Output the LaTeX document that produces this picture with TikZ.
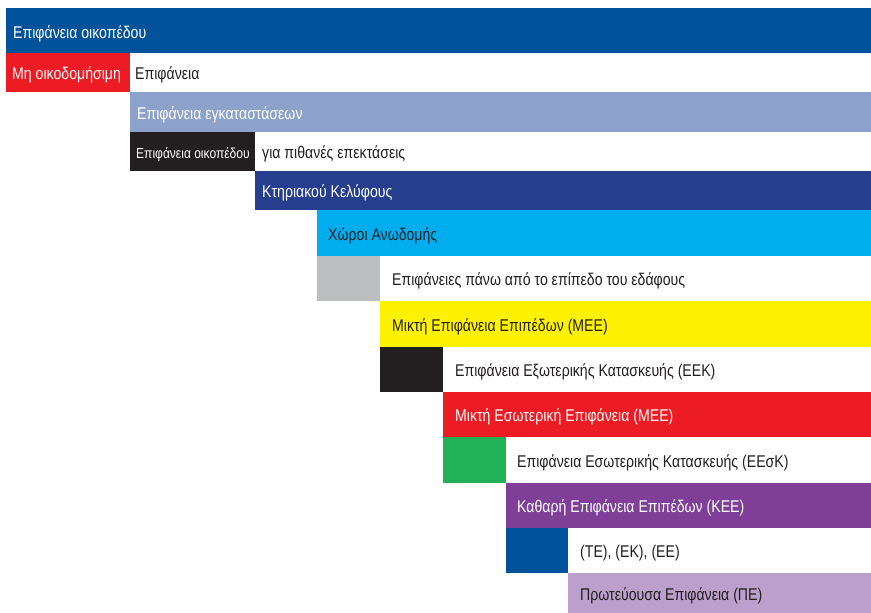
\documentclass[tikz,border=0pt]{standalone}
\usepackage{fontspec}
\setmainfont{Liberation Sans}[FakeStretch=0.83]
\definecolor{cBlue}{HTML}{00539B}
\definecolor{cRed}{HTML}{ED1C24}
\definecolor{cPeri}{HTML}{8DA2CB}
\definecolor{cBlack}{HTML}{231F20}
\definecolor{cNavy}{HTML}{253F8E}
\definecolor{cCyan}{HTML}{00AEEF}
\definecolor{cGray}{HTML}{BCBEC0}
\definecolor{cYellow}{HTML}{FFF200}
\definecolor{cGreen}{HTML}{22B157}
\definecolor{cPurple}{HTML}{7F3F98}
\definecolor{cLav}{HTML}{BBA0CB}
\definecolor{cText}{HTML}{231F20}
\tikzset{
  lbl/.style={anchor=base west, inner sep=0pt, font=\fontsize{17}{20}\selectfont, text=cText},
  wlbl/.style={lbl, text=white},
  slbl/.style={wlbl, font=\fontsize{14.5}{17}\selectfont},
}
\begin{document}
\begin{tikzpicture}[x=1pt,y=-1pt]
\useasboundingbox (0,0) rectangle (871,613);
% bars and boxes
\fill[cBlue]   (6,8)     rectangle (871,53);
\fill[cRed]    (6,53)    rectangle (130,92);
\fill[cPeri]   (130,92)  rectangle (871,132);
\fill[cBlack]  (130,132) rectangle (255,171);
\fill[cNavy]   (255,171) rectangle (871,210);
\fill[cCyan]   (317,210) rectangle (871,256);
\fill[cGray]   (317,256) rectangle (380,301);
\fill[cYellow] (380,301) rectangle (871,347);
\fill[cBlack]  (380,347) rectangle (443,392);
\fill[cRed]    (443,392) rectangle (871,437);
\fill[cGreen]  (443,437) rectangle (506,483);
\fill[cPurple] (506,483) rectangle (871,528);
\fill[cBlue]   (506,528) rectangle (568,573);
\fill[cLav]    (568,573) rectangle (871,613);
% texts
\node[wlbl] (t1)  at (13,38)   {Επιφάνεια οικοπέδου};
\node[wlbl] (t2a) at (12,79)   {Μη οικοδομήσιμη};
\node[lbl]  (t2b) at (135,79)  {Επιφάνεια};
\node[wlbl] (t3)  at (137,119) {Επιφάνεια εγκαταστάσεων};
\node[slbl] (t4a) at (136,158) {Επιφάνεια οικοπέδου};
\node[lbl]  (t4b) at (262,158) {για πιθανές επεκτάσεις};
\node[wlbl] (t5)  at (262,197) {Κτηριακού Κελύφους};
\node[lbl]  (t6)  at (328,240) {Χώροι Ανωδομής};
\node[lbl]  (t7)  at (392,285) {Επιφάνειες πάνω από το επίπεδο του εδάφους};
\node[lbl]  (t8)  at (392,331) {Μικτή Επιφάνεια Επιπέδων (ΜΕΕ)};
\node[lbl]  (t9)  at (455,376) {Επιφάνεια Εξωτερικής Κατασκευής (ΕΕΚ)};
\node[wlbl] (t10) at (455,421) {Μικτή Εσωτερική Επιφάνεια (ΜΕΕ)};
\node[lbl]  (t11) at (517,467) {Επιφάνεια Εσωτερικής Κατασκευής (ΕΕσΚ)};
\node[wlbl] (t12) at (517,512) {Καθαρή Επιφάνεια Επιπέδων (ΚΕΕ)};
\node[lbl]  (t13) at (580,557) {(ΤΕ), (ΕΚ), (ΕΕ)};
\node[lbl]  (t14) at (580,600) {Πρωτεύουσα Επιφάνεια (ΠΕ)};
\end{tikzpicture}
\end{document}
